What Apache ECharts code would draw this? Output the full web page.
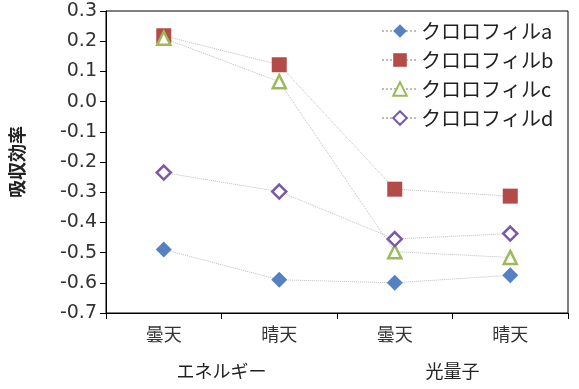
<!DOCTYPE html>
<html>
<head>
<meta charset="utf-8">
<script src="https://cdn.jsdelivr.net/npm/echarts@6/dist/echarts.min.js"></script>
<style>html,body{margin:0;padding:0;background:#fff}#c{width:579px;height:389px}</style>
</head>
<body>
<div id="c"></div>
<script>
const categories = ['曇天', '晴天', '曇天', '晴天'];
const groups = ['エネルギー', '光量子'];
const seriesNames = ['クロロフィルa', 'クロロフィルb', 'クロロフィルc', 'クロロフィルd'];
const chlA = [-0.49, -0.59, -0.60, -0.575];
const chlB = [0.218, 0.122, -0.29, -0.313];
const chlC = [0.21, 0.066, -0.497, -0.516];
const chlD = [-0.235, -0.298, -0.455, -0.437];
const yTicks = { min: -0.7, max: 0.3, interval: 0.1 };

const cjk = '"Noto Sans CJK JP", sans-serif';
const lineStyle = { color: '#bdbdbd', width: 1, type: 'dotted' };

const chart = echarts.init(document.getElementById('c'));
chart.setOption({
  animation: false,
  grid: { left: 106, right: 11, top: 11, bottom: 76, show: true, borderColor: '#000', borderWidth: 1, backgroundColor: 'transparent' },
  legend: {
    orient: 'vertical', left: 376, top: 16,
    itemWidth: 36, itemHeight: 17, itemGap: 9,
    data: seriesNames,
    textStyle: { fontFamily: cjk, fontSize: 20, lineHeight: 20, color: '#222', padding: [0, 0, 0, -2] }
  },
  xAxis: [{
    type: 'category', data: categories, position: 'bottom',
    axisLine: { onZero: false, lineStyle: { color: '#000', width: 1 } },
    axisTick: { show: true, length: 6, inside: false, lineStyle: { color: '#000' } },
    axisLabel: { fontFamily: cjk, fontSize: 18, color: '#333', margin: 12 }
  }, {
    type: 'category', data: groups, position: 'bottom', offset: 41,
    axisLine: { show: false, onZero: false }, axisTick: { show: false },
    axisLabel: { fontFamily: cjk, fontSize: 18, color: '#222', margin: 8 }
  }],
  yAxis: {
    type: 'value', min: yTicks.min, max: yTicks.max, interval: yTicks.interval,
    name: '吸収効率', nameLocation: 'middle', nameGap: 80, nameRotate: 90,
    nameTextStyle: { fontFamily: cjk, fontSize: 18, fontWeight: 'bold', color: '#222' },
    splitLine: { show: false },
    axisLine: { show: true, lineStyle: { color: '#000', width: 1 } },
    axisTick: { show: true, length: 6, lineStyle: { color: '#000' } },
    axisLabel: { fontFamily: '"DejaVu Sans", sans-serif', fontSize: 19, color: '#333', margin: 9,
      formatter: v => (Math.round(v * 10) / 10).toFixed(1) }
  },
  series: [
    { name: seriesNames[0], type: 'line', data: chlA, symbol: 'diamond', symbolSize: 16,
      itemStyle: { color: '#5580c2' }, lineStyle },
    { name: seriesNames[1], type: 'line', data: chlB, symbol: 'rect', symbolSize: 15,
      itemStyle: { color: '#b34b48' }, lineStyle },
    { name: seriesNames[2], type: 'line', data: chlC, symbol: 'triangle', symbolSize: 13,
      itemStyle: { color: '#fff', borderColor: '#9bbb59', borderWidth: 2.5 }, lineStyle },
    { name: seriesNames[3], type: 'line', data: chlD, symbol: 'diamond', symbolSize: 14,
      itemStyle: { color: '#fff', borderColor: '#7a58a8', borderWidth: 2.5 }, lineStyle }
  ]
});
</script>
</body>
</html>
